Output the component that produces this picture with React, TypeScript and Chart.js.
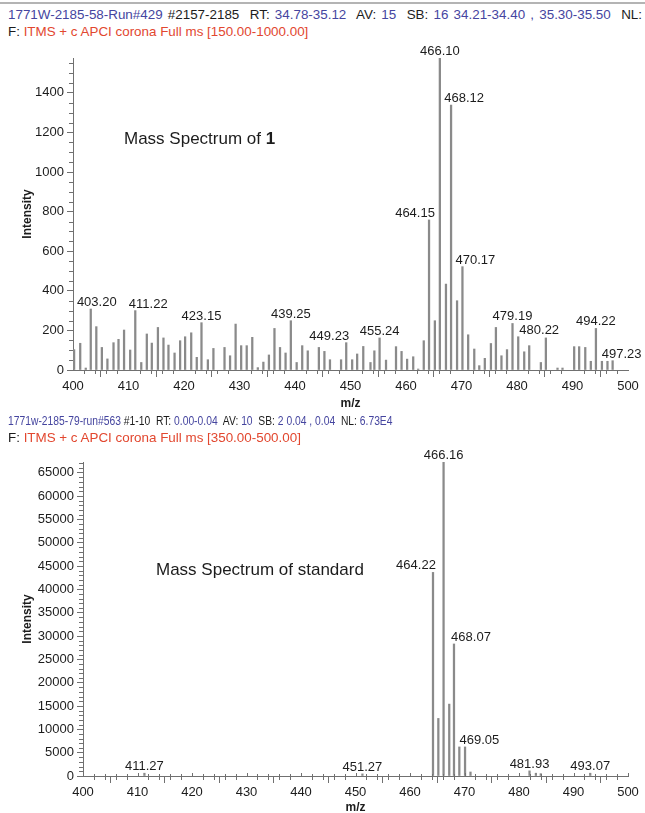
import React, { useEffect, useRef } from 'react';
import { Chart, registerables } from 'chart.js';
Chart.register(...registerables);

// ---------- data: spectrum of compound 1 ----------
const mz1 = [
  400.2, 401.3, 402.3, 403.2, 404.2, 405.2, 406.2, 407.3, 408.2, 409.2,
  410.3, 411.22, 412.3, 413.3, 414.2, 415.3, 416.3, 417.2, 418.3, 419.3,
  420.2, 421.3, 422.3, 423.15, 424.3, 425.3, 427.3, 428.3, 429.3, 430.3,
  431.3, 432.3, 433.3, 434.3, 435.3, 436.3, 437.3, 438.3, 439.25, 440.3,
  441.3, 442.3, 444.3, 445.3, 446.3, 448.3, 449.23, 450.3, 451.2, 452.3,
  453.6, 454.3, 455.24, 456.4, 458.2, 459.2, 460.2, 461.3, 462.2, 463.2,
  464.15, 465.2, 466.1, 467.2, 468.12, 469.2, 470.17, 471.2, 472.3, 473.2,
  474.2, 475.3, 476.2, 477.2, 478.2, 479.19, 480.22, 481.3, 482.2, 484.3,
  485.2, 487.3, 488.2, 490.3, 491.2, 492.3, 493.3, 494.22, 495.3, 496.3,
  497.23,
];
const int1 = [
  103, 135, 10, 308, 219, 114, 56, 138, 155, 202,
  101, 300, 38, 182, 136, 215, 162, 126, 86, 148,
  168, 188, 64, 239, 52, 109, 114, 72, 232, 123,
  123, 165, 12, 40, 76, 210, 114, 86, 249, 38,
  123, 97, 114, 94, 52, 52, 138, 52, 81, 119,
  38, 97, 162, 50, 118, 94, 55, 67, 5, 148,
  758, 249, 1576, 434, 1338, 350, 522, 178, 106, 22,
  59, 134, 215, 72, 103, 235, 168, 92, 123, 38,
  162, 10, 10, 118, 118, 114, 44, 210, 44, 44,
  47,
];
const peaks1 = [403.2, 411.22, 423.15, 439.25, 449.23, 455.24, 464.15, 466.1, 468.12, 470.17, 479.19, 480.22, 494.22, 497.23];

// ---------- data: spectrum of standard ----------
const mz2 = [411.27, 451.27, 464.22, 465.2, 466.16, 467.2, 468.07, 469.05, 470.1, 471.1, 481.93, 483.1, 484.0, 493.07];
const int2 = [600, 450, 43640, 12340, 67300, 15410, 28300, 6230, 6230, 860, 1100, 600, 500, 600];
const peaks2 = [411.27, 451.27, 464.22, 466.16, 468.07, 469.05, 481.93, 493.07];

// ---------- tick labels ----------
const xTicks = [400, 410, 420, 430, 440, 450, 460, 470, 480, 490, 500];
const yTicks1 = [0, 200, 400, 600, 800, 1000, 1200, 1400];
const yTicks2 = [0, 5000, 10000, 15000, 20000, 25000, 30000, 35000, 40000, 45000, 50000, 55000, 60000, 65000];

// ---------- style ----------
const FONT = '"Liberation Sans", Arial, Helvetica, sans-serif';
const AXIS = '#707070';
const BAR = '#8a8a8a';
const TXT = '#1c1c1c';
const BLUE = '#45459f';
const RED = '#e2472f';
const shift1: Record<string, number> = { '403.20': 6, '411.22': 13, '449.23': -17, '464.15': -14, '468.12': 13, '470.17': 13, '480.22': 21, '497.23': 9 };
const shift2: Record<string, number> = { '464.22': -17, '468.07': 17, '469.05': 20 };

function labelPlugin(mz: number[], ints: number[], peaks: number[], shift: Record<string, number>) {
  return {
    id: 'peakLabels',
    afterDatasetsDraw(chart: any) {
      const { ctx, scales } = chart;
      const x = scales.x, y = scales.y;
      ctx.save();
      ctx.font = '13px ' + FONT;
      ctx.fillStyle = TXT;
      ctx.textAlign = 'center';
      ctx.textBaseline = 'alphabetic';
      peaks.forEach((p) => {
        const i = mz.indexOf(p);
        const t = p.toFixed(2);
        const px = x.getPixelForValue(p) + (shift[t] || 0);
        const py = y.getPixelForValue(ints[i]) - 3;
        ctx.fillText(t, px, py);
      });
      ctx.restore();
    },
  };
}

function minorTickPlugin(xStep: number, yStep: number, yMajor: number, cross: boolean) {
  return {
    id: 'minorTicks',
    afterDraw(chart: any) {
      const { ctx, scales, chartArea } = chart;
      const x = scales.x, y = scales.y;
      ctx.save();
      ctx.strokeStyle = AXIS;
      ctx.lineWidth = 1;
      ctx.beginPath();
      for (let v = 400; v <= 500.001; v += xStep) {
        const px = Math.round(x.getPixelForValue(v)) + 0.5;
        const major = Math.abs(v % 10) < 1e-6;
        if (major) {
          if (cross) { ctx.moveTo(px, chartArea.bottom - 3); ctx.lineTo(px, chartArea.bottom); }
          continue;
        }
        ctx.moveTo(px, chartArea.bottom - (cross ? 2 : 0));
        ctx.lineTo(px, chartArea.bottom + 4);
      }
      for (let v = 0; v <= y.max + 1e-6; v += yStep) {
        if (Math.abs(v % yMajor) < 1e-6) continue;
        const py = Math.round(y.getPixelForValue(v)) + 0.5;
        ctx.moveTo(chartArea.left - 4, py);
        ctx.lineTo(chartArea.left, py);
      }
      ctx.stroke();
      ctx.restore();
    },
  };
}

function makeConfig(mz: number[], ints: number[], peaks: number[], shift: Record<string, number>,
  yMax: number, yTicks: number[], yWidth: number, padTop: number, xHeight: number, titlePadB: number,
  yStep: number, yMajor: number, cross: boolean): any {
  return {
    type: 'bar',
    data: {
      datasets: [{
        data: mz.map((m, i) => ({ x: m, y: ints[i] })),
        backgroundColor: BAR,
        borderWidth: 0,
        barThickness: 1.6,
        maxBarThickness: 1.6,
        grouped: false,
      }],
    },
    options: {
      animation: false,
      responsive: false,
      maintainAspectRatio: false,
      events: [],
      layout: { padding: { top: padTop, right: 17, bottom: 0, left: 0 } },
      plugins: { legend: { display: false }, tooltip: { enabled: false }, title: { display: false } },
      scales: {
        x: {
          type: 'linear', min: 400, max: 500, offset: false,
          afterBuildTicks: (s: any) => { s.ticks = xTicks.map((v) => ({ value: v })); },
          afterFit: (s: any) => { s.height = xHeight; },
          grid: { drawOnChartArea: false, drawTicks: true, tickLength: 7, tickColor: AXIS, tickWidth: 1 },
          border: { display: true, color: AXIS, width: 1 },
          ticks: { font: { size: 13, family: FONT }, color: TXT, padding: 2, maxRotation: 0, autoSkip: false, callback: (v: any) => String(v) },
          title: { display: true, text: 'm/z', color: TXT, font: { size: 12, weight: 'bold', family: FONT }, padding: { top: 0, bottom: titlePadB } },
        },
        y: {
          type: 'linear', min: 0, max: yMax,
          afterBuildTicks: (s: any) => { s.ticks = yTicks.map((v) => ({ value: v })); },
          afterFit: (s: any) => { s.width = yWidth; },
          grid: { drawOnChartArea: false, drawTicks: true, tickLength: 6, tickColor: AXIS, tickWidth: 1 },
          border: { display: true, color: AXIS, width: 1 },
          ticks: { font: { size: 13, family: FONT }, color: TXT, padding: 3, autoSkip: false, callback: (v: any) => String(v) },
          title: { display: true, text: 'Intensity', color: TXT, font: { size: 12, weight: 'bold', family: FONT }, padding: { top: 20, bottom: 0 } },
        },
      },
    },
    plugins: [labelPlugin(mz, ints, peaks, shift), minorTickPlugin(2, yStep, yMajor, cross)],
  };
}

export default function App() {
  const c1 = useRef<HTMLCanvasElement>(null);
  const c2 = useRef<HTMLCanvasElement>(null);

  useEffect(() => {
    const ch1 = new Chart(c1.current as HTMLCanvasElement,
      makeConfig(mz1, int1, peaks1, shift1, 1576, yTicks1, 73, 18, 45, 4, 50, 200, false));
    const ch2 = new Chart(c2.current as HTMLCanvasElement,
      makeConfig(mz2, int2, peaks2, shift2, 67300, yTicks2, 83, 17, 37, -2, 1000, 5000, true));
    return () => { ch1.destroy(); ch2.destroy(); };
  }, []);

  const hdr: React.CSSProperties = { position: 'absolute', left: 8, font: '13.4px ' + FONT, lineHeight: '17px', whiteSpace: 'pre', color: TXT };
  const note: React.CSSProperties = { position: 'absolute', font: '17px ' + FONT, lineHeight: '17px', whiteSpace: 'pre', color: TXT };

  return (
    <div style={{ position: 'fixed', left: 0, top: 0, width: 645, height: 813, overflow: 'hidden', background: '#fff' }}>
      <div style={{ position: 'absolute', left: 0, top: 2, width: 645, height: 2, background: '#b4b4b4' }} />
      <div style={{ ...hdr, top: 6 }}>
        <div style={{ wordSpacing: '1.5px' }}><span style={{ color: BLUE }}>1771W-2185-58-Run#429</span> #2157-2185  RT: <span style={{ color: BLUE }}>34.78-35.12</span>  AV: <span style={{ color: BLUE }}>15</span>  SB: <span style={{ color: BLUE }}>16 34.21-34.40 , 35.30-35.50</span>  NL:</div>
        <div>F: <span style={{ color: RED }}>ITMS + c APCI corona Full ms [150.00-1000.00]</span></div>
      </div>
      <canvas ref={c1} width={645} height={375} style={{ position: 'absolute', left: 0, top: 40, display: 'block' }} />
      <div style={{ ...note, left: 124, top: 130 }}>Mass Spectrum of <b>1</b></div>

      <div style={{ ...hdr, top: 412 }}>
        <div style={{ display: 'inline-block', transform: 'scaleX(0.77)', transformOrigin: 'left center' }}><span style={{ color: BLUE }}>1771w-2185-79-run#563</span> #1-10  RT: <span style={{ color: BLUE }}>0.00-0.04</span>  AV: <span style={{ color: BLUE }}>10</span>  SB: <span style={{ color: BLUE }}>2 0.04 , 0.04</span>  NL: <span style={{ color: BLUE }}>6.73E4</span></div>
        <div>F: <span style={{ color: RED }}>ITMS + c APCI corona Full ms [350.00-500.00]</span></div>
      </div>
      <canvas ref={c2} width={645} height={368} style={{ position: 'absolute', left: 0, top: 445, display: 'block' }} />
      <div style={{ ...note, left: 156, top: 561 }}>Mass Spectrum of standard</div>
    </div>
  );
}
